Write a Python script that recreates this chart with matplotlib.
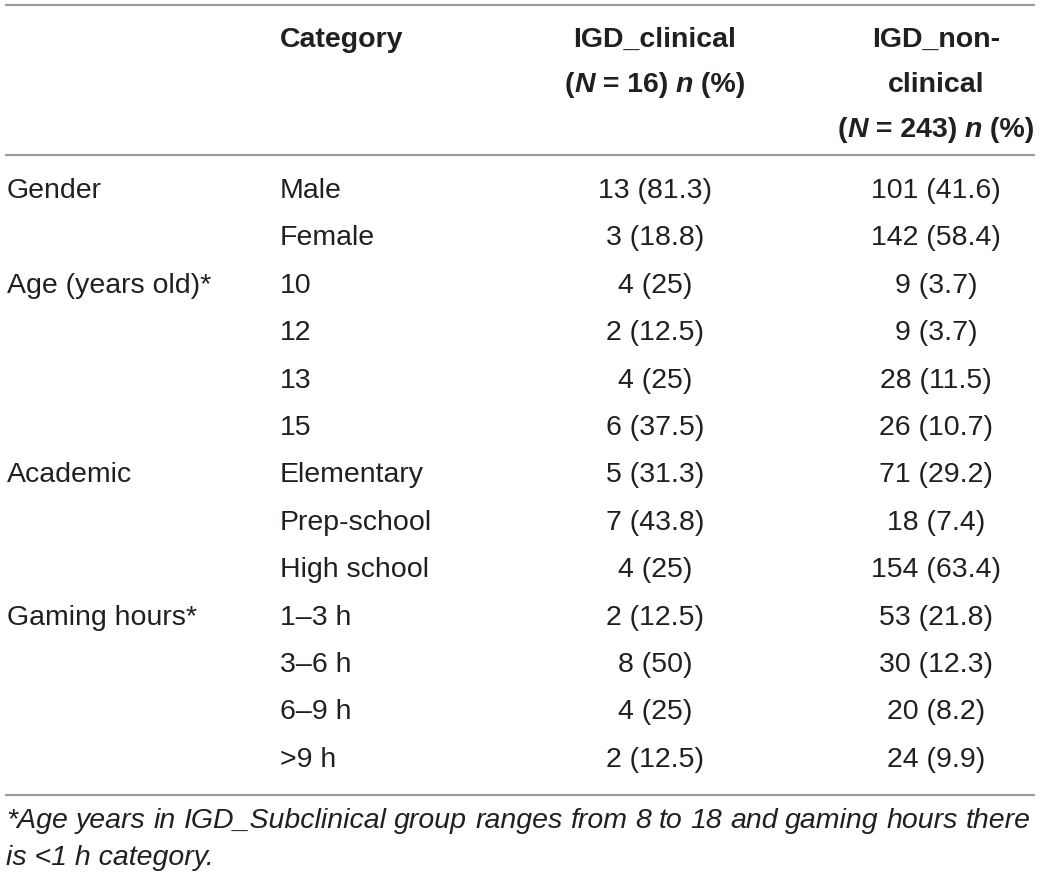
import matplotlib
matplotlib.use("Agg")
import matplotlib.pyplot as plt

# table content
groups = ["Gender", "", "Age (years old)*", "", "", "", "Academic", "", "",
          "Gaming hours*", "", "", ""]
categories = ["Male", "Female", "10", "12", "13", "15", "Elementary",
              "Prep-school", "High school", "1\u20133 h", "3\u20136 h",
              "6\u20139 h", ">9 h"]
clinical = ["13 (81.3)", "3 (18.8)", "4 (25)", "2 (12.5)", "4 (25)",
            "6 (37.5)", "5 (31.3)", "7 (43.8)", "4 (25)", "2 (12.5)",
            "8 (50)", "4 (25)", "2 (12.5)"]
non_clinical = ["101 (41.6)", "142 (58.4)", "9 (3.7)", "9 (3.7)",
                "28 (11.5)", "26 (10.7)", "71 (29.2)", "18 (7.4)",
                "154 (63.4)", "53 (21.8)", "30 (12.3)", "20 (8.2)",
                "24 (9.9)"]
footnote_1 = ("*Age years in IGD_Subclinical group ranges from 8 to 18 "
              "and gaming hours there")
footnote_2 = "is <1 h category."

W, H = 1040, 881
FONT = "Liberation Sans"
SIZE = 20.5
INK = "#231f20"
RULE = "#9a9a9a"

fig = plt.figure(figsize=(W / 100, H / 100), dpi=100)
ax = fig.add_axes([0, 0, 1, 1])
ax.set_xlim(0, W)
ax.set_ylim(H, 0)
ax.axis("off")
renderer = fig.canvas.get_renderer()


def text_width(s, **kw):
    # pad with bars so that leading / trailing spaces are counted
    t = ax.text(0, 0, "|" + s + "|", fontsize=SIZE, family=FONT, **kw)
    w = t.get_window_extent(renderer).width
    t.remove()
    t = ax.text(0, 0, "||", fontsize=SIZE, family=FONT, **kw)
    w -= t.get_window_extent(renderer).width
    t.remove()
    return w


def draw_runs(xc, y, parts):
    # parts: list of (string, style) drawn centred on xc, all bold
    widths = [text_width(s, weight="bold", style=st) for s, st in parts]
    x = xc - sum(widths) / 2
    for (s, st), w in zip(parts, widths):
        ax.text(x, y, s, fontsize=SIZE, family=FONT, weight="bold",
                style=st, color=INK, ha="left", va="center")
        x += w


# rules
for yy in (5, 155, 795):
    ax.plot([5, 1035], [yy, yy], color=RULE, lw=1.5, solid_capstyle="butt")

# header
X_CAT, X_CLIN, X_NON = 280, 655, 936
ax.text(X_CAT, 40, "Category", fontsize=SIZE, family=FONT, weight="bold",
        color=INK, ha="left", va="center")
ax.text(X_CLIN, 40, "IGD_clinical", fontsize=SIZE, family=FONT,
        weight="bold", color=INK, ha="center", va="center")
draw_runs(X_CLIN, 85, [("(", "normal"), ("N", "italic"),
                       (" = 16) ", "normal"), ("n", "italic"),
                       (" (%)", "normal")])
ax.text(X_NON, 40, "IGD_non-", fontsize=SIZE, family=FONT, weight="bold",
        color=INK, ha="center", va="center")
ax.text(X_NON, 85, "clinical", fontsize=SIZE, family=FONT, weight="bold",
        color=INK, ha="center", va="center")
draw_runs(X_NON, 130, [("(", "normal"), ("N", "italic"),
                       (" = 243) ", "normal"), ("n", "italic"),
                       (" (%)", "normal")])

# body
y0, dy = 191, 47.4
for i in range(len(categories)):
    y = y0 + i * dy
    if groups[i]:
        ax.text(7, y, groups[i], fontsize=SIZE, family=FONT, color=INK,
                ha="left", va="center")
    ax.text(X_CAT, y, categories[i], fontsize=SIZE, family=FONT, color=INK,
            ha="left", va="center")
    ax.text(X_CLIN, y, clinical[i], fontsize=SIZE, family=FONT, color=INK,
            ha="center", va="center")
    ax.text(X_NON, y, non_clinical[i], fontsize=SIZE, family=FONT,
            color=INK, ha="center", va="center")

# footnote, first line justified
words = footnote_1.split()
ws = [text_width(w_, style="italic") for w_ in words]
left, right = 6, 1031
gap = (right - left - sum(ws)) / (len(words) - 1)
x = left
for w_, wd in zip(words, ws):
    ax.text(x, 821, w_, fontsize=SIZE, family=FONT, style="italic",
            color=INK, ha="left", va="center")
    x += wd + gap
ax.text(left, 858, footnote_2, fontsize=SIZE, family=FONT, style="italic",
        color=INK, ha="left", va="center")

fig.savefig("out.png", dpi=100)
